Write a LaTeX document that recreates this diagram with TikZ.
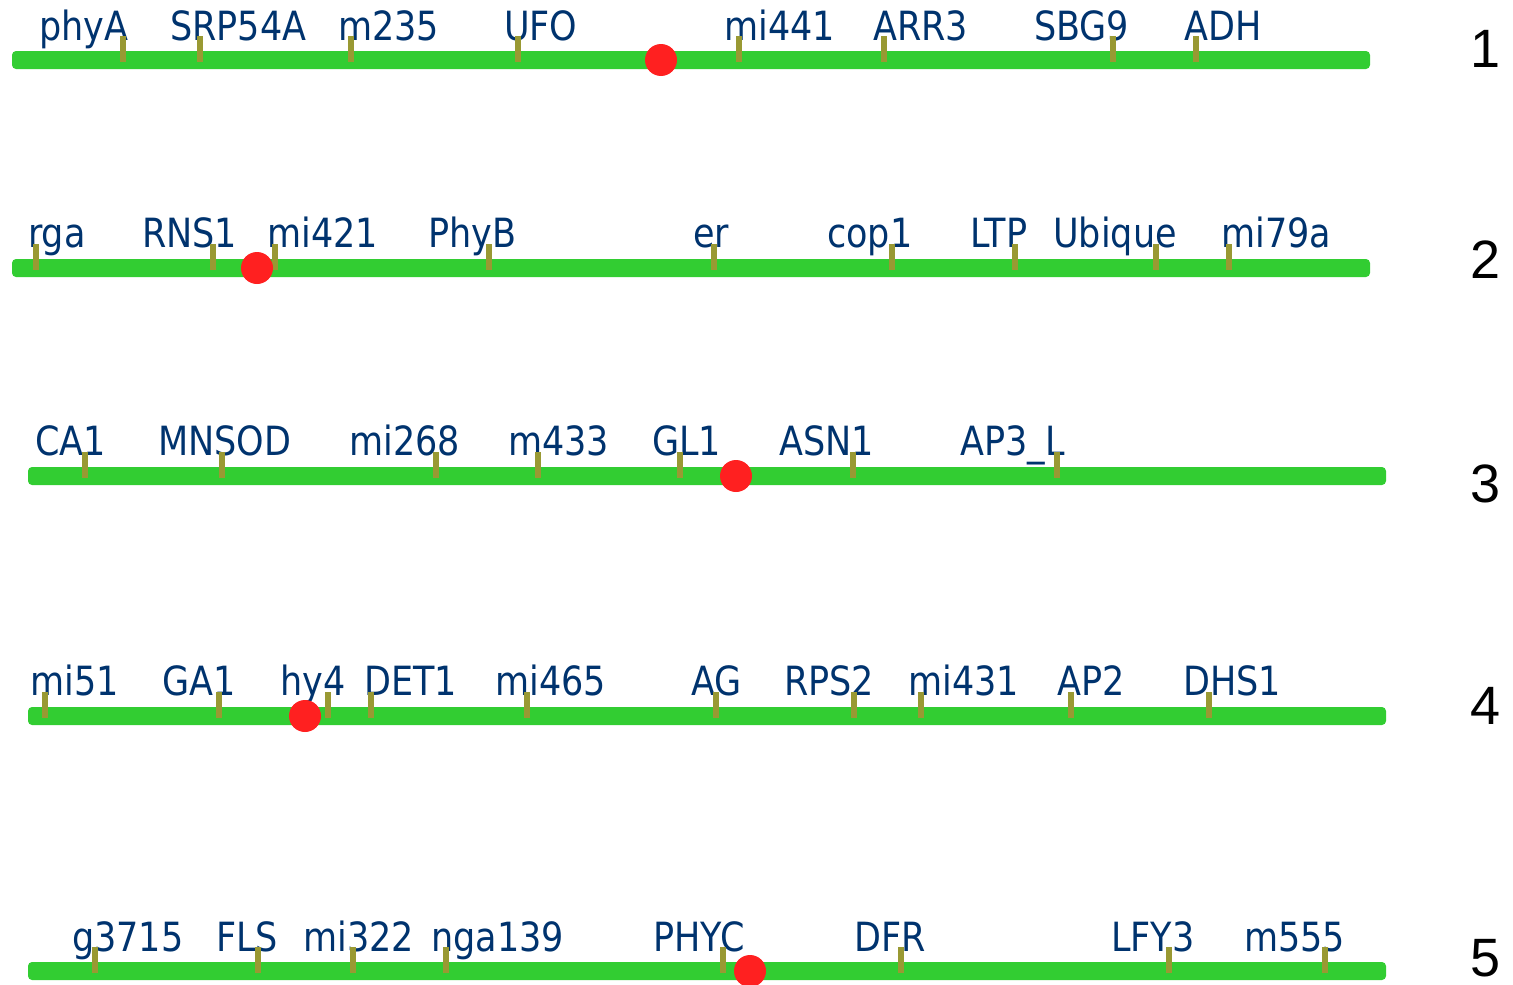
\documentclass[tikz,border=0pt]{standalone}
\usepackage{fontspec}
\usepackage{tikz}
\usepackage{xcolor}

\newfontfamily\genefont{DejaVu Sans}
\newfontfamily\numfont{Liberation Sans}

\definecolor{chromgreen}{RGB}{50,205,50}
\definecolor{tickolive}{RGB}{153,153,51}
\definecolor{cenred}{RGB}{255,32,32}
\definecolor{genenavy}{RGB}{0,51,110}

\begin{document}
\begin{tikzpicture}[
    x=1pt, y=1pt,
    chrom/.style={rectangle, rounded corners=4pt, fill=chromgreen, minimum height=18pt, inner sep=0pt},
    cen/.style={circle, fill=cenred, minimum size=32pt, inner sep=0pt},
    tickmark/.style={rectangle, fill=tickolive, minimum width=6pt, minimum height=26pt, inner sep=0pt, anchor=south},
    gene/.style={anchor=base west, inner sep=0pt, text=genenavy, yscale=1.15, font=\genefont\fontsize{35}{35}\selectfont},
    num/.style={anchor=base, inner sep=0pt, font=\numfont\fontsize{54}{54}\selectfont}
]
    \useasboundingbox (0,0) rectangle (1513,-985);

    % Chromosome 1
    \node[chrom, minimum width=1358pt] (chr1) at (691,-60) {};
    \node[gene] (phyA) at (39,-40) {phyA};       \node[tickmark] (t-phyA) at (123,-62) {};
    \node[gene] (SRP54A) at (170,-40) {SRP54A};  \node[tickmark] (t-SRP54A) at (200,-62) {};
    \node[gene] (m235) at (338,-40) {m235};      \node[tickmark] (t-m235) at (351,-62) {};
    \node[gene] (UFO) at (504,-40) {UFO};        \node[tickmark] (t-UFO) at (518,-62) {};
    \node[gene] (mi441) at (724,-40) {mi441};    \node[tickmark] (t-mi441) at (739,-62) {};
    \node[gene] (ARR3) at (873,-40) {ARR3};      \node[tickmark] (t-ARR3) at (884,-62) {};
    \node[gene] (SBG9) at (1034,-40) {SBG9};     \node[tickmark] (t-SBG9) at (1113,-62) {};
    \node[gene] (ADH) at (1184,-40) {ADH};       \node[tickmark] (t-ADH) at (1196,-62) {};
    \node[cen] (cen1) at (661,-60) {};
    \node[num] (n1) at (1485,-67) {1};

    % Chromosome 2
    \node[chrom, minimum width=1358pt] (chr2) at (691,-268) {};
    \node[gene] (rga) at (28,-247) {rga};        \node[tickmark] (t-rga) at (36,-270) {};
    \node[gene] (RNS1) at (142,-247) {RNS1};     \node[tickmark] (t-RNS1) at (213,-270) {};
    \node[gene] (mi421) at (267,-247) {mi421};   \node[tickmark] (t-mi421) at (275,-270) {};
    \node[gene] (PhyB) at (428,-247) {PhyB};     \node[tickmark] (t-PhyB) at (489,-270) {};
    \node[gene] (er) at (693,-247) {er};         \node[tickmark] (t-er) at (714,-270) {};
    \node[gene] (cop1) at (827,-247) {cop1};     \node[tickmark] (t-cop1) at (892,-270) {};
    \node[gene] (LTP) at (970,-247) {LTP};       \node[tickmark] (t-LTP) at (1015,-270) {};
    \node[gene] (Ubique) at (1053,-247) {Ubique}; \node[tickmark] (t-Ubique) at (1156,-270) {};
    \node[gene] (mi79a) at (1221,-247) {mi79a};  \node[tickmark] (t-mi79a) at (1229,-270) {};
    \node[cen] (cen2) at (257,-268) {};
    \node[num] (n2) at (1485,-278) {2};

    % Chromosome 3
    \node[chrom, minimum width=1358pt] (chr3) at (707,-476) {};
    \node[gene] (CA1) at (35,-455) {CA1};        \node[tickmark] (t-CA1) at (85,-478) {};
    \node[gene] (MNSOD) at (158,-455) {MNSOD};   \node[tickmark] (t-MNSOD) at (222,-478) {};
    \node[gene] (mi268) at (349,-455) {mi268};   \node[tickmark] (t-mi268) at (436,-478) {};
    \node[gene] (m433) at (508,-455) {m433};     \node[tickmark] (t-m433) at (538,-478) {};
    \node[gene] (GL1) at (652,-455) {GL1};       \node[tickmark] (t-GL1) at (680,-478) {};
    \node[gene] (ASN1) at (779,-455) {ASN1};     \node[tickmark] (t-ASN1) at (853,-478) {};
    \node[gene] (AP3L) at (960,-455) {AP3\_L};   \node[tickmark] (t-AP3L) at (1057,-478) {};
    \node[cen] (cen3) at (736,-476) {};
    \node[num] (n3) at (1485,-502) {3};

    % Chromosome 4
    \node[chrom, minimum width=1358pt] (chr4) at (707,-716) {};
    \node[gene] (mi51) at (30,-695) {mi51};      \node[tickmark] (t-mi51) at (45,-718) {};
    \node[gene] (GA1) at (162,-695) {GA1};       \node[tickmark] (t-GA1) at (219,-718) {};
    \node[gene] (hy4) at (280,-695) {hy4};       \node[tickmark] (t-hy4) at (328,-718) {};
    \node[gene] (DET1) at (364,-695) {DET1};     \node[tickmark] (t-DET1) at (371,-718) {};
    \node[gene] (mi465) at (495,-695) {mi465};   \node[tickmark] (t-mi465) at (527,-718) {};
    \node[gene] (AG) at (691,-695) {AG};         \node[tickmark] (t-AG) at (716,-718) {};
    \node[gene] (RPS2) at (784,-695) {RPS2};     \node[tickmark] (t-RPS2) at (854,-718) {};
    \node[gene] (mi431) at (908,-695) {mi431};   \node[tickmark] (t-mi431) at (921,-718) {};
    \node[gene] (AP2) at (1057,-695) {AP2};      \node[tickmark] (t-AP2) at (1071,-718) {};
    \node[gene] (DHS1) at (1183,-695) {DHS1};    \node[tickmark] (t-DHS1) at (1209,-718) {};
    \node[cen] (cen4) at (305,-716) {};
    \node[num] (n4) at (1485,-724) {4};

    % Chromosome 5
    \node[chrom, minimum width=1358pt] (chr5) at (707,-971) {};
    \node[gene] (g3715) at (72,-951) {g3715};    \node[tickmark] (t-g3715) at (95,-973) {};
    \node[gene] (FLS) at (216,-951) {FLS};       \node[tickmark] (t-FLS) at (258,-973) {};
    \node[gene] (mi322) at (303,-951) {mi322};   \node[tickmark] (t-mi322) at (353,-973) {};
    \node[gene] (nga139) at (431,-951) {nga139}; \node[tickmark] (t-nga139) at (446,-973) {};
    \node[gene] (PHYC) at (653,-951) {PHYC};     \node[tickmark] (t-PHYC) at (723,-973) {};
    \node[gene] (DFR) at (854,-951) {DFR};       \node[tickmark] (t-DFR) at (901,-973) {};
    \node[gene] (LFY3) at (1111,-951) {LFY3};    \node[tickmark] (t-LFY3) at (1169,-973) {};
    \node[gene] (m555) at (1244,-951) {m555};    \node[tickmark] (t-m555) at (1325,-973) {};
    \node[cen] (cen5) at (750,-971) {};
    \node[num] (n5) at (1485,-976) {5};
\end{tikzpicture}
\end{document}
